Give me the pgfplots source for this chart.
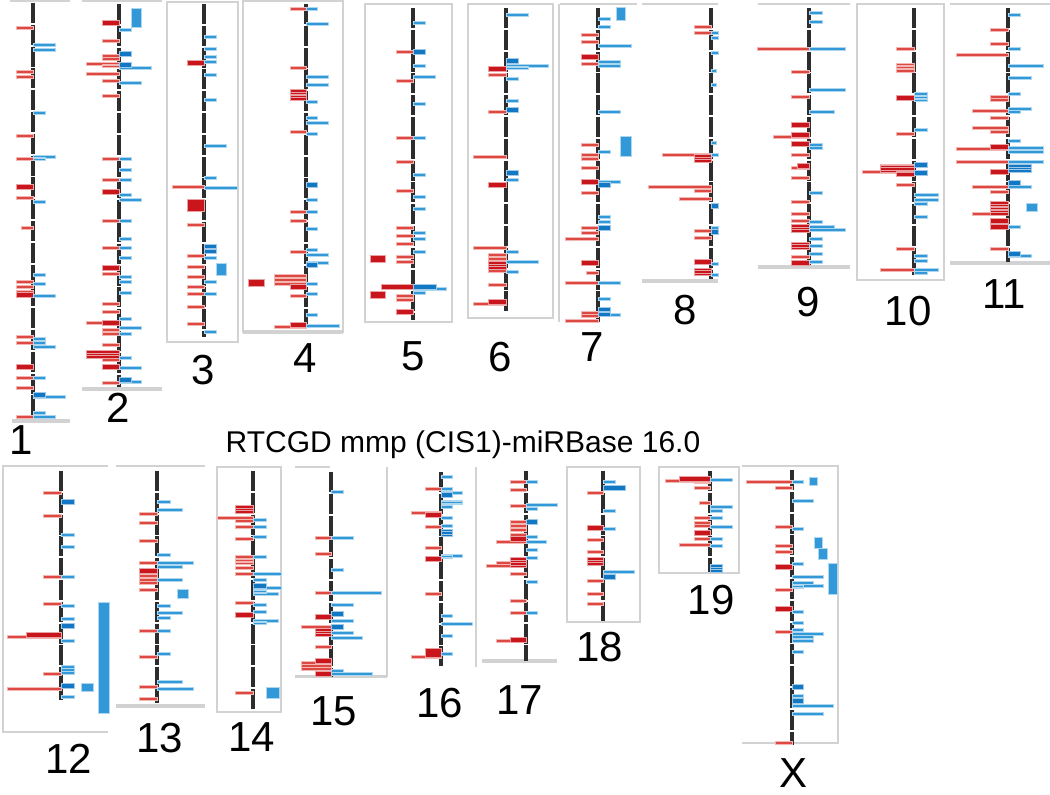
\documentclass[border=0pt]{standalone}
\usepackage{pgfplots}
\pgfplotsset{compat=1.18}
\usepackage{fontspec}
\setmainfont{Liberation Sans}
\definecolor{rc}{RGB}{222,72,66}
\definecolor{rd}{RGB}{200,22,28}
\definecolor{bc}{RGB}{50,152,216}
\definecolor{bd}{RGB}{18,120,195}
\definecolor{fr}{RGB}{210,210,210}
\definecolor{chr}{RGB}{45,45,45}
\pgfplotsset{
  chrom/.style={at={(0pt,0pt)}, anchor=north west, scale only axis, width=525pt, height=397.5pt,
    hide axis, ymin=0, ymax=795, y dir=reverse, clip=false},
  rb/.style={xbar, bar width=2.6, fill=rc, draw=rc!40, line width=0.3pt},
  rD/.style={xbar, bar width=4.5, fill=rd, draw=rd!40, line width=0.3pt},
  bb/.style={xbar, bar width=2.6, fill=bc, draw=bc!40, line width=0.3pt},
  bD/.style={xbar, bar width=4.5, fill=bd, draw=bd!40, line width=0.3pt},
  blk/.style={fill=bc, draw=bc!40, line width=0.3pt},
  rblk/.style={fill=rd, draw=rd!40, line width=0.3pt},
  cline/.style={chr, line width=2.1pt, dash pattern=on 10pt off 0.9pt},
}
\begin{document}
\begin{tikzpicture}
\path[use as bounding box] (0pt,0pt) rectangle (525pt,-397.5pt);
% frames
\begin{scope}[x=0.5pt,y=-0.5pt]
\draw[fr, line width=0.9pt] (10,1)--(70,1);
\draw[fr, line width=2pt] (12,421)--(70,421);
\draw[fr, line width=0.9pt] (82,1)--(162,1);
\draw[fr, line width=2pt] (82,389)--(162,389);
\draw[fr, line width=0.9pt] (167,2) rectangle (238,342);
\draw[fr, line width=0.6pt] (243,1) rectangle (343,332);
\draw[fr, line width=2pt] (243,332)--(343,332);
\draw[fr, line width=0.9pt] (365,4) rectangle (452,322);
\draw[fr, line width=0.9pt] (468,4) rectangle (553,318);
\draw[fr, line width=0.9pt] (560,4)--(637,4);
\draw[fr, line width=0.6pt] (559,4)--(559,322);
\draw[fr, line width=0.9pt] (642,4)--(718,4);
\draw[fr, line width=2pt] (642,281)--(718,281);
\draw[fr, line width=0.9pt] (758,4)--(850,4);
\draw[fr, line width=2pt] (758,267)--(850,267);
\draw[fr, line width=0.9pt] (857,4) rectangle (944,280);
\draw[fr, line width=0.9pt] (950,4)--(1050,4);
\draw[fr, line width=2pt] (950,263)--(1050,263);
\draw[fr, line width=0.9pt] (108,466)--(3,466)--(3,732)--(108,732);
\draw[fr, line width=0.9pt] (116,466)--(205,466);
\draw[fr, line width=2pt] (116,706)--(205,706);
\draw[fr, line width=0.9pt] (217,467) rectangle (281,712);
\draw[fr, line width=0.9pt] (295,467)--(330,467);
\draw[fr, line width=0.9pt] (387,467)--(387,677);
\draw[fr, line width=1.5pt] (295,677)--(387,677);
\draw[fr, line width=0.9pt] (476,467)--(476,667);
\draw[fr, line width=2pt] (482,661)--(557,661);
\draw[fr, line width=0.9pt] (567,467) rectangle (640,622);
\draw[fr, line width=0.9pt] (659,467) rectangle (739,573);
\draw[fr, line width=0.9pt] (742,466)--(838,466)--(838,743)--(742,743);
\end{scope}

% chr 1
\begin{axis}[chrom, xmin=-33, xmax=1017]
\addplot[cline] coordinates {(0,3) (0,418)};
\addplot[rb] coordinates {(-17,28) (-17,72) (-17,77) (-17,136) (-17,159) (-17,198) (-12,228) (-17,282) (-17,287) (-17,292) (-17,337) (-17,343) (-17,378) (-17,388) (-17,417)};
\addplot[rD] coordinates {(-17,187) (-17,295) (-17,367)};
\addplot[bb] coordinates {(22,45) (22,50) (12,113) (22,157) (12,159) (12,202) (12,275) (12,284) (22,296) (12,339) (12,343) (22,347) (12,378) (32,397) (12,413) (22,417)};
\addplot[bD] coordinates {(12,395)};
\end{axis}

% chr 2
\begin{axis}[chrom, xmin=-119, xmax=931]
\addplot[cline] coordinates {(0,4) (0,387)};
\addplot[rb] coordinates {(-17,41) (-17,56) (-17,59) (-33,64) (-17,66) (-33,74) (-17,81) (-17,96) (-17,159) (-17,180) (-17,221) (-17,248) (-17,274) (-17,304) (-17,312) (-33,323) (-17,330) (-17,334) (-17,345) (-17,360) (-17,383)};
\addplot[rD] coordinates {(-17,23) (-17,192) (-17,268) (-17,323) (-33,353) (-33,356) (-17,367)};
\addplot[bb] coordinates {(12,30) (32,68) (22,83) (12,159) (12,170) (12,180) (12,195) (22,200) (12,221) (12,239) (12,248) (12,258) (12,277) (12,282) (12,293) (12,319) (22,328) (12,334) (12,358) (22,368) (22,382)};
\addplot[bD] coordinates {(12,54) (12,65) (12,380)};
\addplot[blk] coordinates {(12,8) (22,8) (22,27) (12,27)} -- cycle;
\end{axis}

% chr 3
\begin{axis}[chrom, xmin=-204, xmax=846]
\addplot[cline] coordinates {(0,4) (0,337)};
\addplot[rb] coordinates {(-32,187) (-17,225) (-17,256) (-17,267) (-17,277) (-17,287) (-17,294) (-17,307) (-17,324)};
\addplot[rD] coordinates {(-17,63)};
\addplot[rblk] coordinates {(-17,199) (0,199) (0,211) (-17,211)} -- cycle;
\addplot[bb] coordinates {(12,37) (12,49) (12,57) (12,62) (12,75) (12,100) (22,146) (12,178) (33,188) (12,258) (12,282) (12,294) (12,332)};
\addplot[bD] coordinates {(12,247) (12,251)};
\addplot[blk] coordinates {(12,263) (22,263) (22,275) (12,275)} -- cycle;
\end{axis}

% chr 4
\begin{axis}[chrom, xmin=-306, xmax=744]
\addplot[cline] coordinates {(0,4) (0,328)};
\addplot[rb] coordinates {(-16,9) (-16,68) (-16,132) (-16,212) (-16,221) (-16,252) (-32,276) (-32,280) (-32,284) (-16,296) (-32,327)};
\addplot[rD] coordinates {(-16,92) (-16,95) (-16,98) (-16,287) (-16,325)};
\addplot[rblk] coordinates {(-58,279) (-42,279) (-42,286) (-58,286)} -- cycle;
\addplot[bb] coordinates {(11,9) (22,24) (22,77) (22,85) (11,102) (11,118) (22,123) (11,134) (11,200) (11,212) (11,229) (11,250) (22,255) (22,263) (11,284) (11,294) (11,315) (33,326)};
\addplot[bD] coordinates {(11,185) (11,265)};
\end{axis}

% chr 5
\begin{axis}[chrom, xmin=-413, xmax=637]
\addplot[cline] coordinates {(0,8) (0,320)};
\addplot[rb] coordinates {(-17,52) (-17,81) (-17,138) (-17,162) (-17,191) (-17,228) (-17,236) (-17,244) (-17,257) (-17,262) (-32,286) (-17,296) (-17,300)};
\addplot[rD] coordinates {(-17,312) (-32,287)};
\addplot[rblk] coordinates {(-43,255) (-28,255) (-28,262) (-43,262)} -- cycle;
\addplot[rblk] coordinates {(-43,291) (-28,291) (-28,298) (-43,298)} -- cycle;
\addplot[bb] coordinates {(12,23) (12,66) (22,77) (12,104) (12,138) (12,175) (12,197) (12,209) (12,233) (12,239) (12,252) (33,289) (12,293)};
\addplot[bD] coordinates {(12,52) (23,287)};
\end{axis}

% chr 6
\begin{axis}[chrom, xmin=-506, xmax=544]
\addplot[cline] coordinates {(0,8) (0,312)};
\addplot[rb] coordinates {(-18,75) (-18,112) (-33,157) (-33,248) (-18,255) (-18,259) (-18,271) (-18,285) (-33,304)};
\addplot[rD] coordinates {(-18,69) (-18,185) (-18,264) (-18,267) (-18,302)};
\addplot[bb] coordinates {(22,15) (42,66) (22,68) (12,79) (12,101) (12,180) (12,252) (32,262) (12,272)};
\addplot[bD] coordinates {(12,61) (12,110) (12,173)};
\end{axis}

% chr 7
\begin{axis}[chrom, xmin=-598, xmax=452]
\addplot[cline] coordinates {(0,8) (0,322)};
\addplot[rb] coordinates {(-17,35) (-17,42) (-17,64) (-17,145) (-17,155) (-17,159) (-17,168) (-17,193) (-17,228) (-17,233) (-33,239) (-12,273) (-33,283) (-17,313) (-17,316) (-33,321)};
\addplot[rD] coordinates {(-17,57) (-17,182) (-17,263)};
\addplot[bb] coordinates {(12,19) (12,27) (33,46) (22,62) (22,66) (22,112) (12,152) (22,182) (12,217) (12,222) (22,283) (12,299) (22,315)};
\addplot[bD] coordinates {(12,185) (12,228) (12,310) (12,314)};
\addplot[blk] coordinates {(18,7) (27,7) (27,20) (18,20)} -- cycle;
\addplot[blk] coordinates {(22,136) (33,136) (33,156) (22,156)} -- cycle;
\end{axis}

% chr 8
\begin{axis}[chrom, xmin=-711, xmax=339]
\addplot[cline] coordinates {(0,8) (0,279)};
\addplot[rb] coordinates {(-17,27) (-17,33) (-49,155) (-63,187) (-17,191) (-32,199) (-17,231) (-17,238)};
\addplot[rD] coordinates {(-17,157) (-17,160) (-17,262) (-17,271) (-17,273)};
\addplot[bb] coordinates {(7,33) (7,38) (7,53) (5,71) (5,85) (5,143) (7,155) (7,228) (7,264) (7,275)};
\addplot[bD] coordinates {(7,206) (7,232)};
\end{axis}

% chr 9
\begin{axis}[chrom, xmin=-809, xmax=241]
\addplot[cline] coordinates {(0,8) (0,265)};
\addplot[rb] coordinates {(-52,49) (-18,72) (-18,97) (-36,137) (-18,155) (-18,168) (-18,178) (-18,202) (-18,214) (-18,221) (-18,257)};
\addplot[rD] coordinates {(-18,125) (-18,135) (-18,144) (-12,166) (-18,227) (-18,230) (-18,245) (-18,247) (-18,263)};
\addplot[bb] coordinates {(13,13) (13,22) (36,49) (36,90) (25,112) (13,145) (13,148) (13,193) (13,222) (25,227) (36,230) (13,239) (13,246) (13,254) (13,262)};
\end{axis}

% chr 10
\begin{axis}[chrom, xmin=-914, xmax=136]
\addplot[cline] coordinates {(0,8) (0,275)};
\addplot[rb] coordinates {(-18,49) (-18,65) (-18,67) (-18,71) (-18,134) (-34,166) (-52,172) (-18,185) (-18,249) (-34,270)};
\addplot[rD] coordinates {(-18,98) (-34,168) (-34,170) (-18,174)};
\addplot[bb] coordinates {(13,94) (13,98) (13,100) (13,130) (24,195) (24,200) (13,204) (13,217) (13,256) (13,261) (24,270) (13,273)};
\addplot[bD] coordinates {(13,165) (13,173)};
\end{axis}

% chr 11
\begin{axis}[chrom, xmin=-1008, xmax=42]
\addplot[cline] coordinates {(0,8) (0,262)};
\addplot[rb] coordinates {(-18,30) (-18,44) (-52,55) (-18,97) (-18,100) (-36,111) (-18,118) (-36,128) (-18,132) (-52,149) (-52,162) (-36,187) (-18,192) (-36,214) (-18,249)};
\addplot[rD] coordinates {(-18,147) (-18,172) (-18,204) (-18,207) (-18,210) (-18,213) (-18,221) (-18,227)};
\addplot[bb] coordinates {(12,15) (12,49) (35,66) (23,78) (12,94) (23,109) (12,112) (12,141) (35,148) (35,152) (35,162) (23,187) (12,227) (23,256)};
\addplot[bD] coordinates {(23,167) (23,170) (12,183) (12,254)};
\addplot[blk] coordinates {(18,203) (29,203) (29,211) (18,211)} -- cycle;
\end{axis}

% chr 12
\begin{axis}[chrom, xmin=-61, xmax=989]
\addplot[cline] coordinates {(0,471) (0,700)};
\addplot[rb] coordinates {(-18,493) (-18,516) (-18,577) (-18,604) (-54,637) (-18,674) (-54,689)};
\addplot[rD] coordinates {(-35,635)};
\addplot[bb] coordinates {(13,535) (13,547) (13,577) (13,606) (13,619) (13,641) (13,667) (13,670) (13,673) (13,697)};
\addplot[bD] coordinates {(13,502) (13,626) (13,686)};
\addplot[blk] coordinates {(20,683) (32,683) (32,691) (20,691)} -- cycle;
\addplot[blk] coordinates {(37,602) (48,602) (48,713) (37,713)} -- cycle;
\end{axis}

% chr 13
\begin{axis}[chrom, xmin=-157, xmax=893]
\addplot[cline] coordinates {(0,471) (0,703)};
\addplot[rb] coordinates {(-18,514) (-18,523) (-18,541) (-18,563) (-18,576) (-18,580) (-18,583) (-18,590) (-18,631) (-18,657) (-18,687) (-18,699)};
\addplot[rD] coordinates {(-18,571)};
\addplot[bb] coordinates {(13,502) (25,510) (13,555) (36,563) (25,567) (25,580) (13,606) (25,613) (13,618) (13,631) (13,654) (25,682) (36,689)};
\addplot[blk] coordinates {(20,589) (31,589) (31,598) (20,598)} -- cycle;
\end{axis}

% chr 14
\begin{axis}[chrom, xmin=-253, xmax=797]
\addplot[cline] coordinates {(0,471) (0,709)};
\addplot[rb] coordinates {(-36,518) (-18,521) (-18,527) (-18,539) (-18,557) (-18,561) (-18,563) (-18,568) (-18,574) (-18,603) (-18,693)};
\addplot[rD] coordinates {(-18,508) (-18,511) (-18,615)};
\addplot[bb] coordinates {(13,520) (13,527) (13,537) (13,557) (28,574) (13,580) (28,588) (13,592) (25,594) (13,605) (13,612) (25,621) (13,623)};
\addplot[bD] coordinates {(13,586)};
\addplot[blk] coordinates {(13,687) (26,687) (26,698) (13,698)} -- cycle;
\end{axis}

% chr 15
\begin{axis}[chrom, xmin=-331, xmax=719]
\addplot[cline] coordinates {(0,472) (0,677)};
\addplot[rb] coordinates {(-16,538) (-16,554) (-16,593) (-16,618) (-30,627) (-16,647) (-30,663) (-30,666) (-30,669)};
\addplot[rD] coordinates {(-16,617) (-16,631) (-16,634) (-16,661) (-16,674)};
\addplot[bb] coordinates {(12,492) (22,538) (12,570) (50,593) (22,605) (22,621) (22,633) (31,638) (12,671) (41,674)};
\addplot[bD] coordinates {(12,614) (12,627)};
\end{axis}

% chr 16
\begin{axis}[chrom, xmin=-441, xmax=609]
\addplot[cline] coordinates {(0,472) (0,666)};
\addplot[rb] coordinates {(-30,513) (-16,489) (-16,527) (-16,548) (-16,594) (-30,657)};
\addplot[rD] coordinates {(-16,515) (-16,559)};
\addplot[rblk] coordinates {(-16,648) (0,648) (0,657) (-16,657)} -- cycle;
\addplot[bb] coordinates {(11,477) (11,489) (21,493) (21,502) (21,503) (11,507) (11,518) (11,526) (21,556) (11,557) (11,616) (31,624) (11,636) (11,654)};
\addplot[bD] coordinates {(11,495) (11,532) (11,534)};
\end{axis}

% chr 17
\begin{axis}[chrom, xmin=-526, xmax=524]
\addplot[cline] coordinates {(0,471) (0,661)};
\addplot[rb] coordinates {(-16,482) (-16,490) (-16,506) (-16,522) (-16,526) (-16,530) (-16,535) (-30,542) (-30,563) (-40,566) (-16,574) (-16,601) (-16,613) (-30,641)};
\addplot[rD] coordinates {(-16,539) (-16,560) (-16,563) (-16,565) (-16,640)};
\addplot[bb] coordinates {(11,482) (31,505) (11,509) (11,537) (20,542) (11,550) (11,558) (11,582) (11,613)};
\addplot[bD] coordinates {(11,522)};
\end{axis}

% chr 18
\begin{axis}[chrom, xmin=-603, xmax=447]
\addplot[cline] coordinates {(0,471) (0,621)};
\addplot[rb] coordinates {(-16,493) (-16,540) (-16,552) (-16,581) (-16,594) (-16,604)};
\addplot[rD] coordinates {(-16,528) (-16,560) (-16,563)};
\addplot[bb] coordinates {(12,482) (12,511) (12,529) (31,572)};
\addplot[bD] coordinates {(22,488) (12,577)};
\end{axis}

% chr 19
\begin{axis}[chrom, xmin=-710, xmax=340]
\addplot[cline] coordinates {(0,471) (0,572)};
\addplot[rb] coordinates {(-45,481) (-16,482) (-16,488) (-11,503) (-16,518) (-16,523) (-16,526) (-16,539) (-31,545)};
\addplot[rD] coordinates {(-31,479) (-16,533)};
\addplot[bb] coordinates {(22,480) (22,507) (12,511) (12,518) (22,527) (12,539) (12,546)};
\addplot[bD] coordinates {(12,567) (12,570)};
\end{axis}

% chr X
\begin{axis}[chrom, xmin=-792, xmax=258]
\addplot[cline] coordinates {(0,470) (0,745)};
\addplot[rb] coordinates {(-46,482) (-17,488) (-17,527) (-17,546) (-17,552) (-17,590) (-17,632) (-17,743)};
\addplot[rD] coordinates {(-17,567) (-17,609)};
\addplot[bb] coordinates {(11,482) (21,501) (11,529) (11,564) (31,577) (21,583) (31,586) (11,587) (11,612) (11,623) (11,630) (31,634) (21,637) (21,641) (11,652) (11,696) (41,706) (31,714)};
\addplot[bD] coordinates {(11,687) (11,701)};
\addplot[blk] coordinates {(17,477) (25,477) (25,485) (17,485)} -- cycle;
\addplot[blk] coordinates {(22,537) (30,537) (30,548) (22,548)} -- cycle;
\addplot[blk] coordinates {(26,548) (35,548) (35,559) (26,559)} -- cycle;
\addplot[blk] coordinates {(36,563) (45,563) (45,594) (36,594)} -- cycle;
\end{axis}

% labels
\begin{scope}[x=0.5pt,y=-0.5pt]
\tikzset{lab/.style={font=\fontsize{21}{21}\selectfont, inner sep=0pt}}
\node[lab] at (21,440) {1};
\node[lab] at (118,408) {2};
\node[lab] at (203,370) {3};
\node[lab] at (305,358) {4};
\node[lab] at (413,356) {5};
\node[lab] at (500,357) {6};
\node[lab] at (592,347) {7};
\node[lab] at (685,310) {8};
\node[lab] at (808,302) {9};
\node[lab] at (908,311) {10};
\node[lab] at (1004,294) {11};
\node[lab] at (69,759) {12};
\node[lab] at (160,738) {13};
\node[lab] at (252,737) {14};
\node[lab] at (334,711) {15};
\node[lab] at (440,703) {16};
\node[lab] at (520,700) {17};
\node[lab] at (600,647) {18};
\node[lab] at (711,600) {19};
\node[lab] at (793,773) {X};
\node[font=\fontsize{15}{15}\selectfont, inner sep=0pt] at (463,445) {RTCGD mmp (CIS1)-miRBase 16.0};
\end{scope}
\end{tikzpicture}
\end{document}
